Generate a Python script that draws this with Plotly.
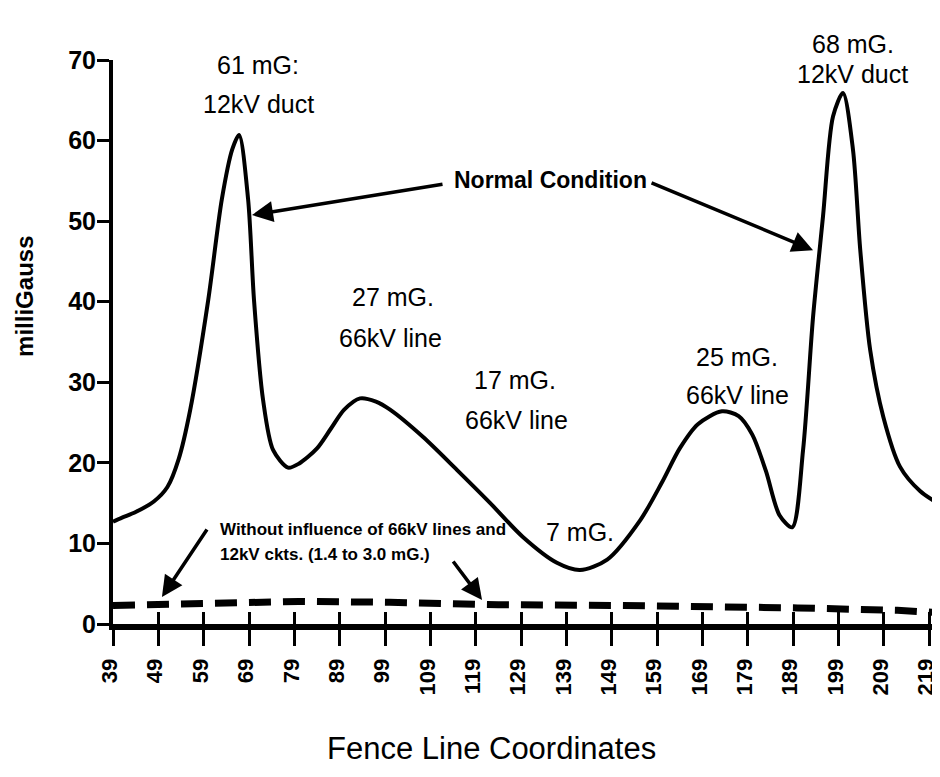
import plotly.graph_objects as go

# ---- data ----
x_normal = [39, 41, 44, 48, 51, 53.5, 56, 60, 63, 65.3, 66.8, 68.8, 70.1, 72.1, 74.3, 77.6,
            80, 84, 87, 90, 93.5, 97, 100.1, 107.4, 114.9, 122.2, 129.4, 136.9, 142, 148, 155.3,
            160, 164, 168, 173.3, 177, 180, 183, 186, 188.8, 191.2, 193.4, 195.6,
            197.8, 200, 202.2, 203.8, 206, 208.9, 212.6, 217, 221.4]
y_normal = [12.7, 13.2, 13.9, 15.2, 17.0, 20.5, 26.5, 40.2, 52.7, 58.9, 60.7, 52.7, 40.2, 27.8, 21.6, 19.4,
            19.9, 21.8, 24.2, 26.6, 28.0, 27.6, 26.6, 23.2, 19.1, 15.0, 10.8, 7.6, 6.7, 8.0, 12.9,
            17.5, 21.8, 24.8, 26.4, 25.8, 23.5, 19.0, 13.5, 12.0, 21.6, 38.1, 50.6,
            63.0, 65.9, 58.9, 46.5, 34.0, 25.7, 19.5, 16.5, 14.8]

x_base = [39, 60, 80, 100, 124, 150, 168, 190, 212, 221.4]
y_base = [2.3, 2.6, 2.8, 2.7, 2.4, 2.3, 2.2, 2.0, 1.7, 1.4]

x_ticks = [39, 49, 59, 69, 79, 89, 99, 109, 119, 129, 139, 149, 159, 169, 179, 189, 199, 209, 219]
y_ticks = [0, 10, 20, 30, 40, 50, 60, 70]

X_RANGE = [39, 221.4]
Y_RANGE = [0, 70]

FONT = "Liberation Sans, Arial, sans-serif"

fig = go.Figure()
fig.add_trace(go.Scatter(x=x_normal, y=y_normal, mode="lines",
                         line=dict(color="black", width=4, shape="spline", smoothing=0.8),
                         showlegend=False, hoverinfo="skip"))
fig.add_trace(go.Scatter(x=x_base, y=y_base, mode="lines", xaxis="x2",
                         line=dict(color="black", width=7, dash="22px,12px"),
                         showlegend=False, hoverinfo="skip"))

annos = []
def txt(x, y, s, size=25, bold=False, xanchor="center", ref="y"):
    annos.append(dict(x=x, y=y, xref="x", yref=ref, text=("<b>%s</b>" % s) if bold else s,
                      showarrow=False, xanchor=xanchor, yanchor="middle",
                      font=dict(family=FONT, size=size, color="black")))

def arrow(x, y, ax, ay):
    annos.append(dict(x=x, y=y, xref="x", yref="y", text="", showarrow=True,
                      ax=ax, ay=ay, arrowhead=2, arrowsize=1.2, arrowwidth=3.5,
                      arrowcolor="black"))

txt(71.0, 69.4, "61 mG:")
txt(71.0, 64.6, "12kV duct")
txt(202.2, 1.028, "68 mG.", ref="paper")
txt(202.2, 0.975, "12kV duct", ref="paper")
txt(135.4, 55.1, "Normal Condition", size=23, bold=True)
txt(100.8, 40.6, "27 mG.")
txt(100.1, 35.5, "66kV line")
txt(127.7, 30.3, "17 mG.")
txt(128.1, 25.3, "66kV line")
txt(176.7, 33.1, "25 mG.")
txt(176.7, 28.4, "66kV line")
txt(142.0, 11.4, "7 mG.")
txt(62.2, 11.7, "Without influence of 66kV lines and", size=17, bold=True, xanchor="left")
txt(62.2, 8.6, "12kV ckts. (1.4 to 3.0 mG.)", size=17, bold=True, xanchor="left")

arrow(69.66, 50.76, 192, -31)
arrow(193.4, 46.4, -163, -68)
arrow(49.8, 3.35, 46, -69)
arrow(120.4, 2.98, -30, -40)

# axis titles
annos.append(dict(x=-0.1064, y=0.58, xref="paper", yref="paper", text="<b>milliGauss</b>",
                  textangle=-90, showarrow=False, xanchor="center", yanchor="middle",
                  font=dict(family=FONT, size=24, color="black")))
annos.append(dict(x=0.458, y=-0.22, xref="paper", yref="paper", text="Fence Line Coordinates",
                  showarrow=False, xanchor="center", yanchor="middle",
                  font=dict(family=FONT, size=31, color="black")))

fig.update_layout(
    width=932, height=769,
    margin=dict(l=105, r=0, t=52, b=153),
    paper_bgcolor="white", plot_bgcolor="white",
    annotations=annos,
    xaxis=dict(range=X_RANGE, tickmode="array", tickvals=x_ticks, ticktext=[str(v) for v in x_ticks],
               tickangle=-90, ticks="outside", ticklen=16, tickwidth=3, tickcolor="black",
               showline=True, linecolor="black", linewidth=6, showgrid=False, zeroline=False,
               ticklabeloverflow="allow", ticklabelshift=-3,
               tickfont=dict(family=FONT, size=22, color="black", weight="bold"), ticklabelstandoff=4),
    xaxis2=dict(range=X_RANGE, overlaying="x", anchor="y", side="bottom", tickmode="array",
                tickvals=x_ticks, ticks="inside", ticklen=12, tickwidth=3, tickcolor="black",
                showticklabels=False, showline=False, showgrid=False, zeroline=False),
    yaxis=dict(range=Y_RANGE, tickmode="array", tickvals=y_ticks, ticktext=[str(v) for v in y_ticks],
               ticks="outside", ticklen=12, tickwidth=3, tickcolor="black",
               showline=True, linecolor="black", linewidth=4, showgrid=False, zeroline=False,
               ticklabelstandoff=-4,
               tickfont=dict(family=FONT, size=25, color="black", weight="bold")),
)
fig.write_html("out.html")
